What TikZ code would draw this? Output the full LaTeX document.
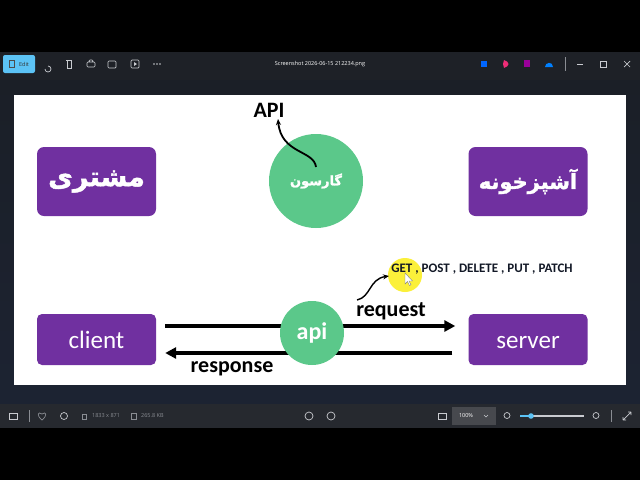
\documentclass[tikz,border=0pt]{standalone}
\usepackage{fontspec}
\setmainfont{Carlito}
\newfontfamily\uifont{Open Sans}
\newfontfamily\fafont[Script=Arabic, BoldFeatures={FakeBold=1.5}]{DejaVu Sans}
\TeXXeTstate=1
\usetikzlibrary{arrows.meta}
\definecolor{purp}{HTML}{7030A0}
\definecolor{grn}{HTML}{5BC88A}
\definecolor{topbar}{HTML}{1E2127}
\definecolor{viewtop}{HTML}{1B1F27}
\definecolor{viewbot}{HTML}{1C2332}
\definecolor{botbar}{HTML}{26292F}
\definecolor{editblue}{HTML}{5CC3F5}
\definecolor{icongray}{HTML}{C9CBD0}
\definecolor{dimgray}{HTML}{8A8D93}
\definecolor{hlyellow}{HTML}{FBF03A}
\definecolor{navy}{HTML}{121826}
\tikzset{
  fabox/.style={fill=purp, rounded corners=7pt, minimum width=119pt, minimum height=69pt, text=white, inner sep=0pt},
  enbox/.style={fill=purp, rounded corners=5pt, minimum width=119pt, minimum height=51pt, text=white, inner sep=0pt, text height=20pt, text depth=2pt, font=\fontsize{25}{25}\selectfont},
  gcircle/.style={circle, fill=grn, inner sep=0pt, text=white},
  biglabel/.style={font=\bfseries\fontsize{22}{22}\selectfont, text=black, inner sep=0pt},
  bigarrow/.style={line width=3.5pt, -{Triangle[length=11pt,width=11pt]}},
  curvearrow/.style={line width=1.8pt, -{Stealth[length=6pt,width=5pt]}},
  icon/.style={draw=icongray, line width=0.7pt},
  uitext/.style={font=\uifont\fontsize{5.5}{6}\selectfont, inner sep=0pt}
}
\begin{document}
\begin{tikzpicture}[x=1pt,y=-1pt]
\useasboundingbox (0,0) rectangle (640,480);
% ---------- window chrome ----------
\fill[black] (0,0) rectangle (640,480);
\fill[topbar] (0,52) rectangle (640,80);
\shade[top color=viewtop, bottom color=viewbot] (0,80) rectangle (640,404);
\fill[botbar] (0,404) rectangle (640,428);
% top toolbar
\node[fill=editblue, rounded corners=2pt, minimum width=32pt, minimum height=18pt, inner sep=0pt] (editbtn) at (19,64) {};
\node[uitext, text=black!80] (edittxt) at (24,64) {Edit};
\draw[draw=black!70, line width=0.6pt] (9,60) rectangle (14,67);
\draw[icon] (48,66) arc (-90:180:3) ;
\draw[icon] (66,60) -- (72,60) (67,60) rectangle (71,68);
\draw[icon, rounded corners=1pt] (87,62) rectangle (95,67) (89,60) rectangle (93,62);
\draw[icon, rounded corners=1pt] (108,61) rectangle (116,68);
\draw[icon, rounded corners=1pt] (131,60) rectangle (139,68);
\fill[icongray] (134,62) -- (137,64) -- (134,66) -- cycle;
\foreach \xx in {154,157,160} \fill[icongray] (\xx,64) circle (0.8);
\node[uitext, text=white] (title) at (320,64) {Screenshot 2026-06-15 212234.png};
\fill[blue!60!cyan] (481,61) rectangle (487,67);
\fill[magenta!70!orange] (504,60) .. controls (510,62) and (510,66) .. (504,68) -- (503,64) -- cycle;
\fill[violet!80!magenta] (524,60) rectangle (530,67);
\fill[blue!50!cyan] (545,67) .. controls (545,62) and (553,61) .. (553,67) -- cycle;
\draw[dimgray, line width=0.4pt] (565,57) -- (565,71);
\draw[icon] (577,64) -- (583,64);
\draw[icon] (600,61) rectangle (606,67);
\draw[icon] (624,61) -- (630,67) (630,61) -- (624,67);
% bottom toolbar
\draw[icon] (9,413) rectangle (17,419);
\draw[dimgray, line width=0.4pt] (29,410) -- (29,422);
\draw[icon, draw=dimgray] (42,420) .. controls (36,415) and (38,411) .. (42,414) .. controls (46,411) and (48,415) .. (42,420);
\draw[icon] (64,416) circle (3.5);
\draw[icon, draw=dimgray, line width=0.5pt] (82,414) rectangle (86,419);
\node[uitext, text=dimgray, anchor=west] (dims) at (92,416) {1833 x 871};
\draw[icon, draw=dimgray, line width=0.5pt] (131,413) rectangle (136,419);
\node[uitext, text=dimgray, anchor=west] (size) at (141,416) {265.8 KB};
\draw[icon] (309,416) circle (4);
\draw[icon] (331,416) circle (4);
\draw[icon] (438,413) rectangle (446,419);
\fill[white!15!botbar] (452,407) rectangle (496,425);
\node[uitext, text=white] (zoom) at (466,416) {100\%};
\draw[icon, line width=0.5pt] (484,415) -- (486,417) -- (488,415);
\draw[icon] (507,415.5) circle (3);
\draw[line width=1.2pt, editblue] (520,416) -- (531,416);
\draw[line width=1.2pt, icongray] (531,416) -- (584,416);
\fill[editblue] (531,416) circle (2.8);
\draw[icon] (596,415.5) circle (3);
\draw[dimgray, line width=0.4pt] (611,410) -- (611,422);
\draw[icon] (623,420) -- (631,412) (623,420) -- (623,417) (623,420) -- (626,420) (631,412) -- (628,412) (631,412) -- (631,415);
% ---------- image ----------
\fill[white] (14,95) rectangle (626,385);
% top row
\node[fabox] (moshtari) at (96.5,181.5) {\fafont\bfseries\fontsize{27}{27}\selectfont\beginR مشتری\endR};
\node[fabox] (ashpaz) at (528,181.5) {\fafont\bfseries\fontsize{21}{21}\selectfont\beginR آشپزخونه\endR};
\node[gcircle, minimum size=94pt] (garson) at (316,181) {\fafont\bfseries\fontsize{13}{13}\selectfont\beginR گارسون\endR};
\node[biglabel] (apilbl) at (269,110) {API};
\coordinate (gstart) at (316,167);
\coordinate (gend) at (278,119);
\draw[curvearrow] (gstart) .. controls (314,150) and (281,154) .. (gend);
% bottom row
\node[enbox] (client) at (96.5,339.5) {client};
\node[enbox] (server) at (528,339.5) {server};
\draw[bigarrow] ([xshift=9pt,yshift=13.5pt]client.east) -- ([xshift=-13pt,yshift=13.5pt]server.west);
\draw[bigarrow] ([xshift=-16pt,yshift=-13.5pt]server.west) -- ([xshift=9pt,yshift=-13.5pt]client.east);
\node[gcircle, minimum size=64pt, font=\bfseries\fontsize{24}{24}\selectfont] (api) at (312,333) {api};
\node[biglabel] (request) at (391,311) {request};
\node[biglabel] (response) at (232,369) {response};
\node[circle, fill=hlyellow, minimum size=34pt, inner sep=0pt] (hl) at (405,275) {};
\node[font=\bfseries\fontsize{13}{13}\selectfont, text=navy, inner sep=0pt] (methods) at (482,269) {GET , POST , DELETE , PUT , PATCH};
\coordinate (rstart) at (357,300);
\coordinate (rend) at (389,276);
\draw[curvearrow, line width=1.4pt] (rstart) .. controls (371,297) and (369,279) .. (rend);
\draw[fill=white, draw=gray, line width=0.4pt] (405,273) -- (405,284) -- (407.5,281.5) -- (409.5,285.5) -- (411,284.8) -- (409,281) -- (412.5,281) -- cycle;
\end{tikzpicture}
\end{document}
